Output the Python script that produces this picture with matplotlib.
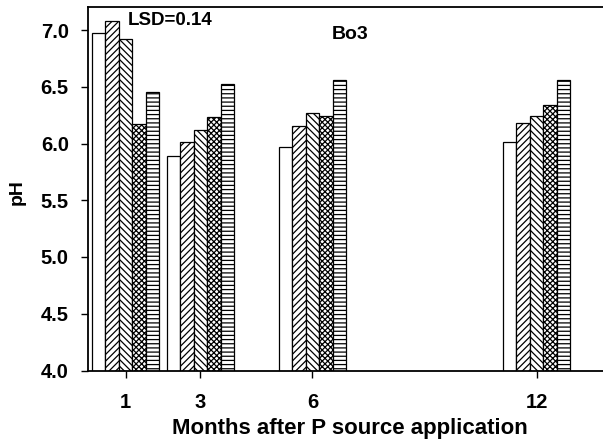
import matplotlib
matplotlib.use("Agg")
import matplotlib.pyplot as plt
import numpy as np

plt.rcParams['font.family'] = ['Liberation Sans', 'DejaVu Sans']
plt.rcParams['font.weight'] = 'bold'
plt.rcParams['hatch.linewidth'] = 0.9

# Sampling times (months after P source application)
months = [1, 3, 6, 12]
tick_labels = ['1', '3', '6', '12']

# Soil pH for each treatment
ph_t1 = [6.97, 5.89, 5.97, 6.01]
ph_t2 = [7.08, 6.01, 6.15, 6.18]
ph_t3 = [6.92, 6.12, 6.27, 6.24]
ph_t4 = [6.17, 6.23, 6.24, 6.34]
ph_t5 = [6.45, 6.52, 6.56, 6.56]

series = [ph_t1, ph_t2, ph_t3, ph_t4, ph_t5]
hatches = ['', '/////', '\\\\\\\\\\', 'xxxxxx', '----']

fig = plt.figure(figsize=(6.03, 4.45), dpi=100)
ax = fig.add_axes([88.3 / 603, 1 - 370.5 / 445, 14 * 37.36 / 603, 363.2 / 445])

width = 0.36
x = np.array(months, dtype=float)
for i, (vals, h) in enumerate(zip(series, hatches)):
    ax.bar(x + (i - 2) * width, vals, width=width, bottom=0,
           color='white', edgecolor='black', linewidth=0.9, hatch=h)

ax.set_xlim(0, 14)
ax.set_ylim(4.0, 7.2)
ax.set_xticks(months)
ax.set_xticklabels(tick_labels)
yt = np.arange(4.0, 7.01, 0.5)
ax.set_yticks(yt)
ax.set_yticklabels([f'{v:.1f}' for v in yt])
ax.tick_params(axis='both', direction='out', length=5, width=1, labelsize=14.5)
ax.tick_params(axis='x', pad=11)
ax.tick_params(axis='y', pad=9)
ax.spines['right'].set_visible(False)
for s in ['left', 'bottom', 'top']:
    ax.spines[s].set_linewidth(1.3)

ax.set_xlabel('Months after P source application', fontsize=16, fontweight='bold')
ax.xaxis.label.set_va('center')
ax.xaxis.set_label_coords(0.5, -0.161)
ax.set_ylabel('pH', fontsize=14, fontweight='bold')
ax.yaxis.label.set_va('center')
ax.yaxis.set_label_coords(-0.1354, 0.491)

ax.text(1.06, 7.08, 'LSD=0.14', fontsize=13.5, fontweight='bold', va='center', ha='left')
ax.text(7.0, 6.96, 'Bo3', fontsize=14, fontweight='bold', va='center', ha='center')

fig.savefig('out.png', dpi=100)
